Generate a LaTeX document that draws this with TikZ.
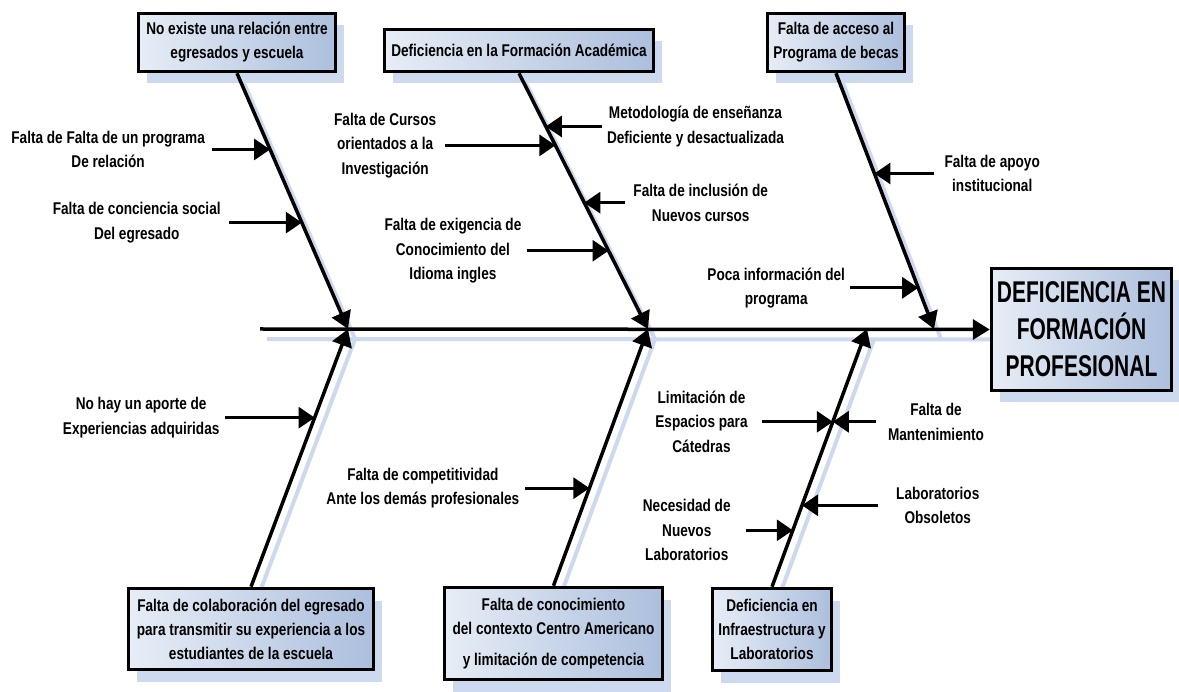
\documentclass[tikz,border=0pt]{standalone}
\usepackage{fontspec}
\setmainfont{Liberation Sans}[FakeStretch=0.8]
\newfontfamily\titlefont{Liberation Sans}[FakeStretch=0.7]
\usetikzlibrary{arrows.meta,positioning,calc,shadows,backgrounds}
\definecolor{claro}{RGB}{231,237,246}
\definecolor{oscuro}{RGB}{172,191,221}
\definecolor{sombra}{RGB}{204,217,238}
\tikzset{
  causa/.style={draw,line width=3.5pt,left color=claro,right color=oscuro,align=center,
    inner sep=0pt,font=\bfseries\fontsize{17}{24}\selectfont,
    drop shadow={shadow xshift=8pt,shadow yshift=-12pt,fill=sombra,opacity=1}},
  nota/.style={align=center,inner sep=0pt,font=\bfseries\fontsize{17}{24.5}\selectfont},
  hueso/.style={line width=3.5pt,-{Triangle[length=17pt,width=20pt]}},
  flecha/.style={line width=3pt,-{Triangle[length=16pt,width=21pt]}},
  rastro/.style={line width=4pt,draw=sombra},
  desvio/.style={shift={(7pt,-10pt)}}
}
\begin{document}
\begin{tikzpicture}[x=1pt,y=-1pt]
\useasboundingbox (0,0) rectangle (1179,692);
% cajas
\node[causa,minimum width=197pt,minimum height=58pt] (c1) at (237,42.5) {No existe una relación entre\\egresados y escuela};
\node[causa,minimum width=269pt,minimum height=42pt] (c2) at (519,50.5) {Deficiencia en la Formación Académica};
\node[causa,minimum width=137pt,minimum height=58pt] (c3) at (836,42.5) {Falta de acceso al\\Programa de becas};
\node[causa,minimum width=245pt,minimum height=81pt] (c4) at (251,629) {Falta de colaboración del egresado\\para transmitir su experiencia a los\\estudiantes de la escuela};
\node[causa,minimum width=218pt,minimum height=92pt] (c5) at (553.5,633.5) {Falta de conocimiento\\del contexto Centro Americano\\[7pt]y limitación de competencia};
\node[causa,minimum width=119pt,minimum height=82pt] (c6) at (772,629.5) {Deficiencia en\\Infraestructura y\\Laboratorios};
\node[causa,minimum width=180pt,minimum height=122pt,font=\titlefont\bfseries\fontsize{30}{37}\selectfont] (efecto) at (1081.5,329.5) {DEFICIENCIA EN\\FORMACIÓN\\PROFESIONAL};
% espina
\coordinate (cola) at (260,329);
\coordinate (j1) at (348,329);
\coordinate (j2) at (648,329);
\coordinate (j3) at (934,329);
\coordinate (j4) at (867,329);
\begin{scope}[on background layer]
\draw[rastro] ([desvio]cola) -- ([desvio]efecto.west);
\draw[rastro] ([desvio]c1.south) -- ([desvio]j1);
\draw[rastro] ([desvio]c2.south) -- ([desvio]j2);
\draw[rastro] ([desvio]c3.south) -- ([desvio]j3);
\draw[rastro] ([desvio]c4.north) -- ([desvio]j1);
\draw[rastro] ([desvio]c5.north) -- ([desvio]j2);
\draw[rastro] ([desvio]c6.north) -- ([desvio]j4);
\end{scope}
\draw[hueso] (cola) -- (efecto.west);
\draw[hueso] (c1.south) -- (j1);
\draw[hueso] (c2.south) -- (j2);
\draw[hueso] (c3.south) -- (j3);
\draw[hueso] (c4.north) -- (j1);
\draw[hueso] (c5.north) -- (j2);
\draw[hueso] (c6.north) -- (j4);
% puntos sobre los huesos
\coordinate (h11) at ($(c1.south)!.298!(j1)$);
\coordinate (h12) at ($(c1.south)!.584!(j1)$);
\coordinate (h21) at ($(c2.south)!.208!(j2)$);
\coordinate (h22) at ($(c2.south)!.282!(j2)$);
\coordinate (h23) at ($(c2.south)!.506!(j2)$);
\coordinate (h24) at ($(c2.south)!.694!(j2)$);
\coordinate (h31) at ($(c3.south)!.392!(j3)$);
\coordinate (h32) at ($(c3.south)!.839!(j3)$);
\coordinate (h41) at ($(c4.north)!.656!(j1)$);
\coordinate (h51) at ($(c5.north)!.38!(j2)$);
\coordinate (h61) at ($(c6.north)!.64!(j4)$);
\coordinate (h62) at ($(c6.north)!.316!(j4)$);
\coordinate (h63) at ($(c6.north)!.219!(j4)$);
% colas de las flechas
\coordinate[left=58pt of h11] (t11);
\coordinate[left=73pt of h12] (t12);
\coordinate[right=56pt of h21] (t21);
\coordinate[left=110pt of h22] (t22);
\coordinate[right=41pt of h23] (t23);
\coordinate[left=82pt of h24] (t24);
\coordinate[right=60pt of h31] (t31);
\coordinate[left=68pt of h32] (t32);
\coordinate[left=90pt of h41] (t41);
\coordinate[left=64pt of h51] (t51);
\coordinate[left=71pt of h61] (t61);
\coordinate[right=43pt of h61] (t61b);
\coordinate[right=76pt of h62] (t62);
\coordinate[left=47pt of h63] (t63);
\foreach \t/\h in {t11/h11,t12/h12,t21/h21,t22/h22,t23/h23,t24/h24,t31/h31,t32/h32,
  t41/h41,t51/h51,t61/h61,t61b/h61,t62/h62,t63/h63}
  \draw[flecha] (\t) -- (\h);
% sub causas
\node[nota,left=7pt of t11] (n11) {Falta de Falta de un programa\\De relación};
\node[nota,left=8pt of t12] (n12) {Falta de conciencia social\\Del egresado};
\node[nota,right=5pt of t21] (n21) {Metodología de enseñanza\\Deficiente y desactualizada};
\node[nota,left=9pt of t22] (n22) {Falta de Cursos\\orientados a la\\Investigación};
\node[nota,right=8pt of t23] (n23) {Falta de inclusión de\\Nuevos cursos};
\node[nota,left=5pt of t24] (n24) {Falta de exigencia de\\Conocimiento del\\Idioma ingles};
\node[nota,right=10pt of t31] (n31) {Falta de apoyo\\institucional};
\node[nota,left=5pt of t32] (n32) {Poca información del\\programa};
\node[nota,left=5pt of t41] (n41) {No hay un aporte de\\Experiencias adquiridas};
\node[nota,left=6pt of t51] (n51) {Falta de competitividad\\Ante los demás profesionales};
\node[nota,left=14pt of t61] (n61) {Limitación de\\Espacios para\\Cátedras};
\node[nota,right=12pt of t61b] (n61b) {Falta de\\Mantenimiento};
\node[nota,right=18pt of t62] (n62) {Laboratorios\\Obsoletos};
\node[nota,left=15pt of t63] (n63) {Necesidad de\\Nuevos\\Laboratorios};
\end{tikzpicture}
\end{document}
